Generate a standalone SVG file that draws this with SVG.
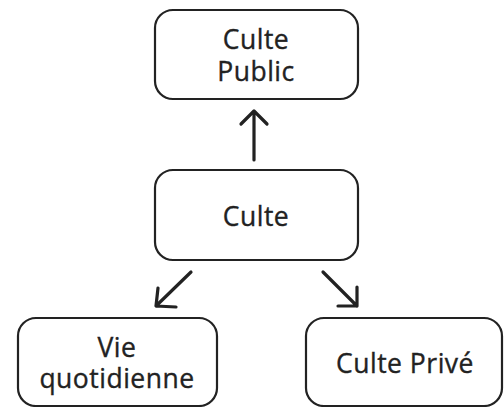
<svg xmlns="http://www.w3.org/2000/svg" width="504" height="407" viewBox="0 0 504 407">
<style>
.box{fill:#fff;stroke:#222;stroke-width:2.2}
.t{font-family:"Open Sans","Noto Sans",sans-serif;font-size:26.5px;fill:#222;stroke:#222;stroke-width:0.35px;text-anchor:middle;letter-spacing:0.5px}
.c{fill:none;stroke:#222;stroke-width:3.2;stroke-linecap:round;stroke-linejoin:round}
</style>
<rect width="504" height="407" fill="#fff"/>
<g id="culte-public"><rect class="box" x="155" y="10" width="203" height="89" rx="18"/><text class="t" x="256" y="49">Culte</text><text class="t" x="256" y="81">Public</text></g>
<g id="culte"><rect class="box" x="155" y="170" width="203" height="90" rx="18"/><text class="t" x="256" y="226">Culte</text></g>
<g id="vie"><rect class="box" x="18" y="318" width="199" height="88" rx="18"/><text class="t" x="117" y="357">Vie</text><text class="t" x="117" y="388">quotidienne</text></g>
<g id="prive"><rect class="box" x="306" y="318" width="196" height="88" rx="18"/><text class="t" x="405" y="373">Culte Privé</text></g>
<g id="connectors">
<path class="c" d="M254 160 V111 M241 124 L254 111 L267 124"/>
<path class="c" d="M191 272 L156 306 M158 288 L156 306 L176 307"/>
<path class="c" d="M323 272 L357 306 M357 287 L357 306 L338 306"/>
</g>
</svg>
